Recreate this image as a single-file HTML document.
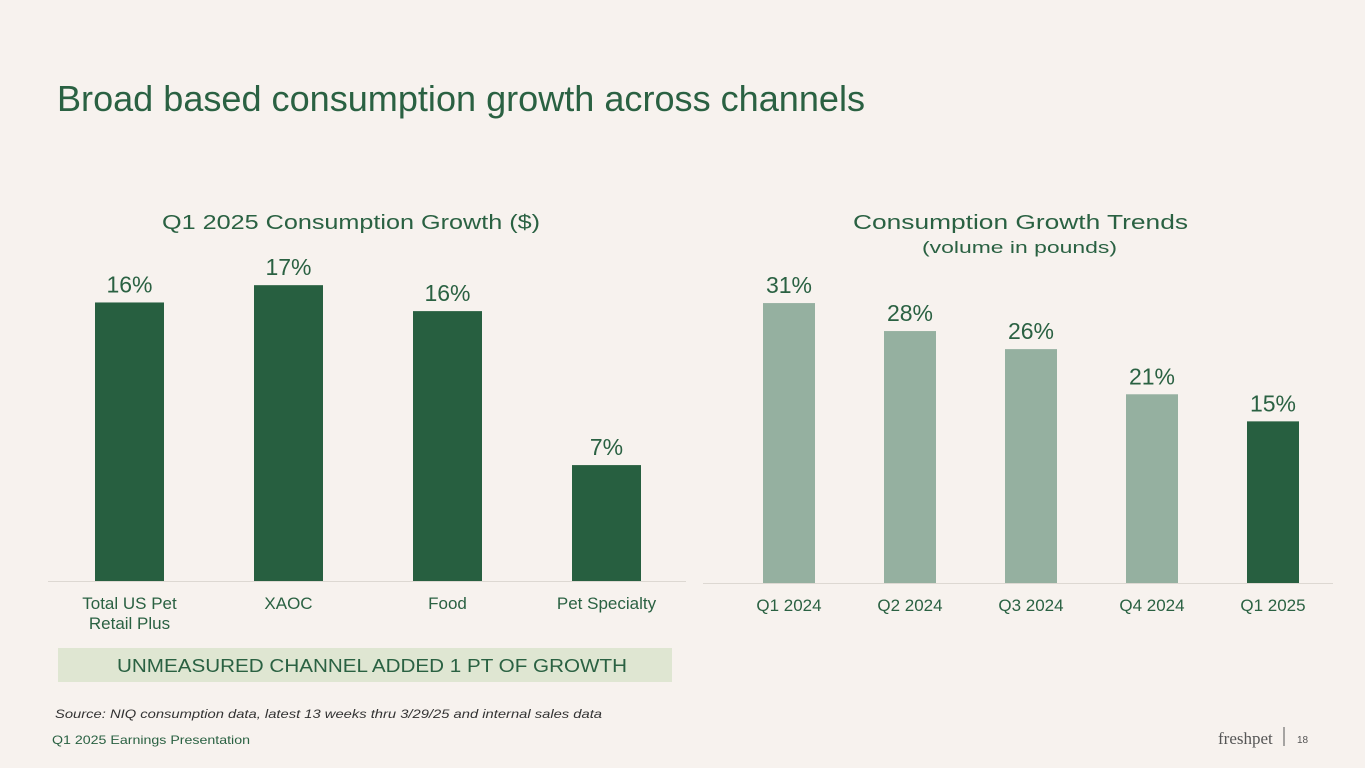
<!DOCTYPE html>
<html><head><meta charset="utf-8"><style>
body{margin:0;width:1365px;height:768px;background:#f7f2ee;overflow:hidden;font-family:"Liberation Sans",sans-serif}
svg{position:absolute;left:0;top:0}
</style></head><body>
<svg width="1365" height="768" xmlns="http://www.w3.org/2000/svg">
<text x="57" y="111" font-size="36" fill="#2a6142" textLength="808" lengthAdjust="spacingAndGlyphs">Broad based consumption growth across channels</text>
<text x="162" y="229" font-size="20" fill="#2a6142" textLength="378" lengthAdjust="spacingAndGlyphs">Q1 2025 Consumption Growth ($)</text>
<text x="853" y="229" font-size="20" fill="#2a6142" textLength="335" lengthAdjust="spacingAndGlyphs">Consumption Growth Trends</text>
<text x="922" y="253" font-size="17" fill="#2a6142" textLength="195" lengthAdjust="spacingAndGlyphs">(volume in pounds)</text>
<line x1="48" y1="581.5" x2="686" y2="581.5" stroke="#ddd8d2"/>
<line x1="703" y1="583.5" x2="1333" y2="583.5" stroke="#ddd8d2"/>
<g id="left"></g><g id="right"></g>
<rect x="58" y="648" width="614" height="34" fill="#dfe6d2"/>
<text x="117" y="672" font-size="18" fill="#2a6142" textLength="510" lengthAdjust="spacingAndGlyphs">UNMEASURED CHANNEL ADDED 1 PT OF GROWTH</text>
<text x="55" y="718" font-size="12" font-style="italic" fill="#333" textLength="547" lengthAdjust="spacingAndGlyphs">Source:  NIQ consumption data, latest 13 weeks thru 3/29/25 and internal sales data</text>
<text x="52" y="744" font-size="12" fill="#2a6142" textLength="198" lengthAdjust="spacingAndGlyphs">Q1 2025 Earnings Presentation</text>
<text x="1218" y="744" font-size="17" font-family="Liberation Serif,serif" fill="#555">freshpet</text>
<line x1="1284" y1="727" x2="1284" y2="746" stroke="#555"/>
<text x="1297" y="743" font-size="10" fill="#555">18</text>
</svg>
<script>
const leftCats=["Total US Pet|Retail Plus","XAOC","Food","Pet Specialty"];
const leftVals=[16.1,17.1,15.6,6.7];
const leftLabels=["16%","17%","16%","7%"];
const rightCats=["Q1 2024","Q2 2024","Q3 2024","Q4 2024","Q1 2025"];
const rightVals=[31,27.9,25.9,20.9,17.9];
const rightLabels=["31%","28%","26%","21%","15%"];
const NS="http://www.w3.org/2000/svg";
function mk(t,a,p){const e=document.createElementNS(NS,t);for(const k in a)e.setAttribute(k,a[k]);p.appendChild(e);return e;}
function draw(g,cats,vals,labels,x0,step,w,base,scale,colorFn,prefix){
 cats.forEach((c,i)=>{
  const x=x0+i*step,h=vals[i]*scale,cx=x+w/2;
  const r=mk('rect',{x:x,y:base-h,width:w,height:h,fill:colorFn(i)},g);
  
  
  const t=mk('text',{x:cx,y:base-h-10,'font-size':23,fill:'#2a6142','text-anchor':'middle'},g);
  t.textContent=labels[i];
  
  
  c.split('|').forEach((ln,j)=>{
   const l=mk('text',{x:cx,y:base+28+j*20,'font-size':17,fill:'#2a6142','text-anchor':'middle'},g);
   l.textContent=ln;
   
   
  });
 });
}
draw(document.getElementById('left'),leftCats,leftVals,leftLabels,95,159,69,581,17.3,()=>'#275f40','left');
draw(document.getElementById('right'),rightCats,rightVals,rightLabels,763,121,52,583,9.03,i=>i===rightCats.length-1?'#275f40':'#95b0a0','right');
</script>
</body></html>
